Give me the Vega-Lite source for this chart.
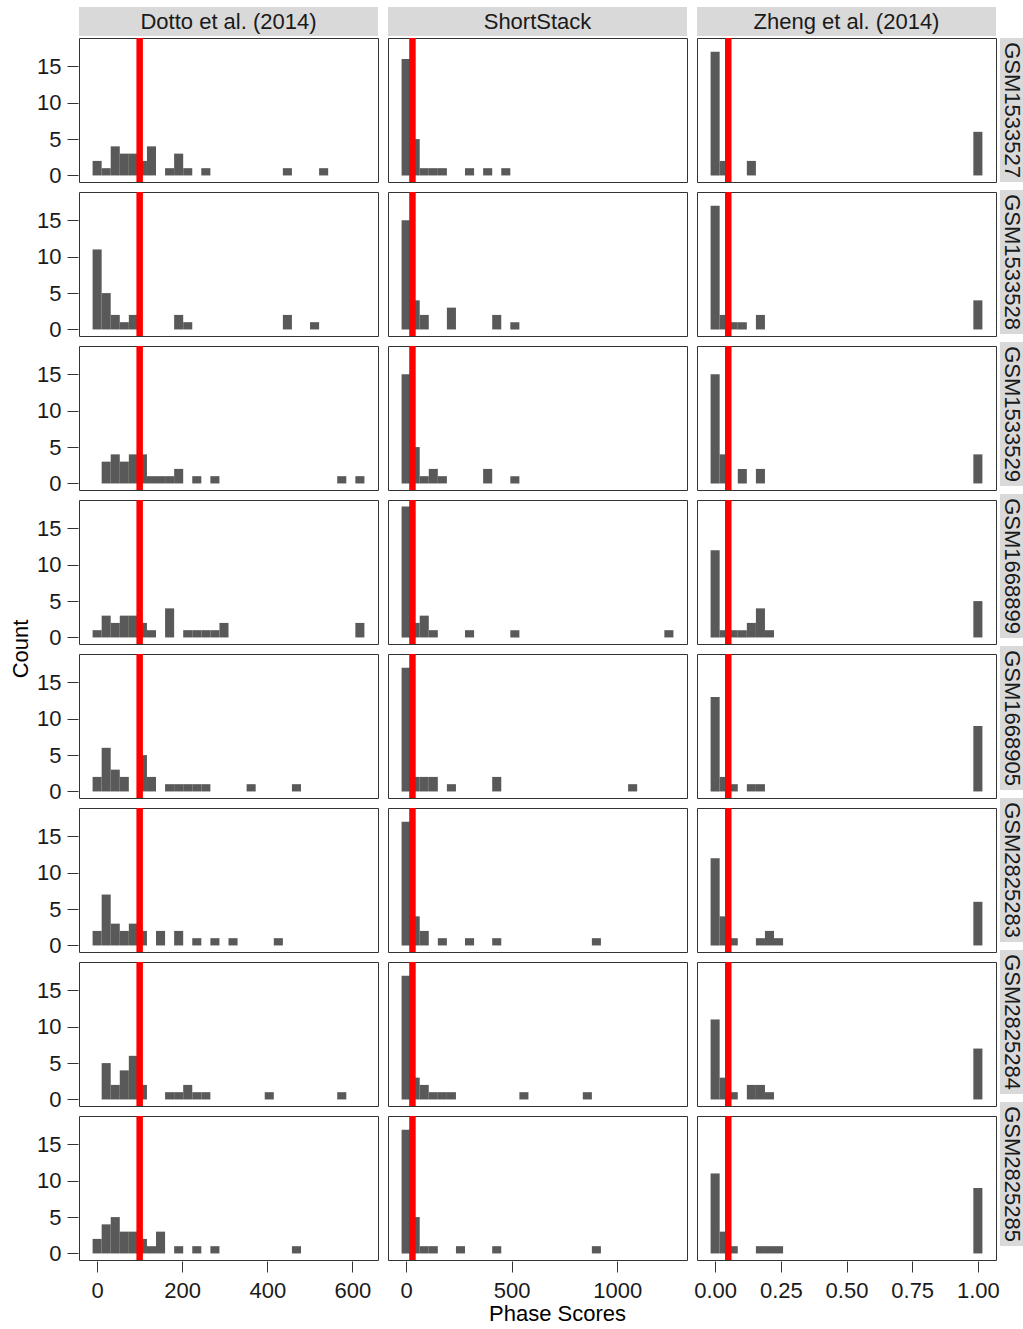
{
  "$schema": "https://vega.github.io/schema/vega-lite/v6.json",
  "background": "white",
  "padding": {"left": 10, "top": 7, "right": 0, "bottom": 0},
  "config": {
    "font": "Liberation Sans",
    "view": {"stroke": "#333333"},
    "axis": {"grid": false, "domain": false, "tickColor": "#333333", "tickSize": 11, "labelFontSize": 22, "labelColor": "#1a1a1a", "titleFontSize": 22, "titleFontWeight": "normal", "titleColor": "#000000"},
    "axisX": {"labelPadding": 8, "titlePadding": 2},
    "axisY": {"labelPadding": 6},
    "header": {"labelFontSize": 22, "titleFontSize": 22, "titleFontWeight": "normal", "titleColor": "#000000", "labelColor": "#1a1a1a"}
  },
  "datasets": {
    "samples": [
      {"sample": "GSM1533527"}, {"sample": "GSM1533528"}, {"sample": "GSM1533529"}, {"sample": "GSM1668899"},
      {"sample": "GSM1668905"}, {"sample": "GSM2825283"}, {"sample": "GSM2825284"}, {"sample": "GSM2825285"}
    ],
    "hist": [
      {"tool":"D","sample":"GSM1533527","threshold":100},
      {"tool":"D","sample":"GSM1533528","threshold":100},
      {"tool":"D","sample":"GSM1533529","threshold":100},
      {"tool":"D","sample":"GSM1668899","threshold":100},
      {"tool":"D","sample":"GSM1668905","threshold":100},
      {"tool":"D","sample":"GSM2825283","threshold":100},
      {"tool":"D","sample":"GSM2825284","threshold":100},
      {"tool":"D","sample":"GSM2825285","threshold":100},
      {"tool":"S","sample":"GSM1533527","threshold":30},
      {"tool":"S","sample":"GSM1533528","threshold":30},
      {"tool":"S","sample":"GSM1533529","threshold":30},
      {"tool":"S","sample":"GSM1668899","threshold":30},
      {"tool":"S","sample":"GSM1668905","threshold":30},
      {"tool":"S","sample":"GSM2825283","threshold":30},
      {"tool":"S","sample":"GSM2825284","threshold":30},
      {"tool":"S","sample":"GSM2825285","threshold":30},
      {"tool":"Z","sample":"GSM1533527","threshold":0.05},
      {"tool":"Z","sample":"GSM1533528","threshold":0.05},
      {"tool":"Z","sample":"GSM1533529","threshold":0.05},
      {"tool":"Z","sample":"GSM1668899","threshold":0.05},
      {"tool":"Z","sample":"GSM1668905","threshold":0.05},
      {"tool":"Z","sample":"GSM2825283","threshold":0.05},
      {"tool":"Z","sample":"GSM2825284","threshold":0.05},
      {"tool":"Z","sample":"GSM2825285","threshold":0.05},

      {"tool":"D","sample":"GSM1533527","lo":-10.65,"hi":10.65,"count":2},
      {"tool":"D","sample":"GSM1533527","lo":10.65,"hi":31.95,"count":1},
      {"tool":"D","sample":"GSM1533527","lo":31.95,"hi":53.25,"count":4},
      {"tool":"D","sample":"GSM1533527","lo":53.25,"hi":74.55,"count":3},
      {"tool":"D","sample":"GSM1533527","lo":74.55,"hi":95.85,"count":3},
      {"tool":"D","sample":"GSM1533527","lo":95.85,"hi":117.15,"count":2},
      {"tool":"D","sample":"GSM1533527","lo":117.15,"hi":138.45,"count":4},
      {"tool":"D","sample":"GSM1533527","lo":159.75,"hi":181.05,"count":1},
      {"tool":"D","sample":"GSM1533527","lo":181.05,"hi":202.35,"count":3},
      {"tool":"D","sample":"GSM1533527","lo":202.35,"hi":223.65,"count":1},
      {"tool":"D","sample":"GSM1533527","lo":244.95,"hi":266.25,"count":1},
      {"tool":"D","sample":"GSM1533527","lo":436.65,"hi":457.95,"count":1},
      {"tool":"D","sample":"GSM1533527","lo":521.85,"hi":543.15,"count":1},

      {"tool":"D","sample":"GSM1533528","lo":-10.65,"hi":10.65,"count":11},
      {"tool":"D","sample":"GSM1533528","lo":10.65,"hi":31.95,"count":5},
      {"tool":"D","sample":"GSM1533528","lo":31.95,"hi":53.25,"count":2},
      {"tool":"D","sample":"GSM1533528","lo":53.25,"hi":74.55,"count":1},
      {"tool":"D","sample":"GSM1533528","lo":74.55,"hi":95.85,"count":2},
      {"tool":"D","sample":"GSM1533528","lo":181.05,"hi":202.35,"count":2},
      {"tool":"D","sample":"GSM1533528","lo":202.35,"hi":223.65,"count":1},
      {"tool":"D","sample":"GSM1533528","lo":436.65,"hi":457.95,"count":2},
      {"tool":"D","sample":"GSM1533528","lo":500.55,"hi":521.85,"count":1},

      {"tool":"D","sample":"GSM1533529","lo":10.65,"hi":31.95,"count":3},
      {"tool":"D","sample":"GSM1533529","lo":31.95,"hi":53.25,"count":4},
      {"tool":"D","sample":"GSM1533529","lo":53.25,"hi":74.55,"count":3},
      {"tool":"D","sample":"GSM1533529","lo":74.55,"hi":95.85,"count":4},
      {"tool":"D","sample":"GSM1533529","lo":95.85,"hi":117.15,"count":4},
      {"tool":"D","sample":"GSM1533529","lo":117.15,"hi":138.45,"count":1},
      {"tool":"D","sample":"GSM1533529","lo":138.45,"hi":159.75,"count":1},
      {"tool":"D","sample":"GSM1533529","lo":159.75,"hi":181.05,"count":1},
      {"tool":"D","sample":"GSM1533529","lo":181.05,"hi":202.35,"count":2},
      {"tool":"D","sample":"GSM1533529","lo":223.65,"hi":244.95,"count":1},
      {"tool":"D","sample":"GSM1533529","lo":266.25,"hi":287.55,"count":1},
      {"tool":"D","sample":"GSM1533529","lo":564.45,"hi":585.75,"count":1},
      {"tool":"D","sample":"GSM1533529","lo":607.05,"hi":628.35,"count":1},

      {"tool":"D","sample":"GSM1668899","lo":-10.65,"hi":10.65,"count":1},
      {"tool":"D","sample":"GSM1668899","lo":10.65,"hi":31.95,"count":3},
      {"tool":"D","sample":"GSM1668899","lo":31.95,"hi":53.25,"count":2},
      {"tool":"D","sample":"GSM1668899","lo":53.25,"hi":74.55,"count":3},
      {"tool":"D","sample":"GSM1668899","lo":74.55,"hi":95.85,"count":3},
      {"tool":"D","sample":"GSM1668899","lo":95.85,"hi":117.15,"count":2},
      {"tool":"D","sample":"GSM1668899","lo":117.15,"hi":138.45,"count":1},
      {"tool":"D","sample":"GSM1668899","lo":159.75,"hi":181.05,"count":4},
      {"tool":"D","sample":"GSM1668899","lo":202.35,"hi":223.65,"count":1},
      {"tool":"D","sample":"GSM1668899","lo":223.65,"hi":244.95,"count":1},
      {"tool":"D","sample":"GSM1668899","lo":244.95,"hi":266.25,"count":1},
      {"tool":"D","sample":"GSM1668899","lo":266.25,"hi":287.55,"count":1},
      {"tool":"D","sample":"GSM1668899","lo":287.55,"hi":308.85,"count":2},
      {"tool":"D","sample":"GSM1668899","lo":607.05,"hi":628.35,"count":2},

      {"tool":"D","sample":"GSM1668905","lo":-10.65,"hi":10.65,"count":2},
      {"tool":"D","sample":"GSM1668905","lo":10.65,"hi":31.95,"count":6},
      {"tool":"D","sample":"GSM1668905","lo":31.95,"hi":53.25,"count":3},
      {"tool":"D","sample":"GSM1668905","lo":53.25,"hi":74.55,"count":2},
      {"tool":"D","sample":"GSM1668905","lo":95.85,"hi":117.15,"count":5},
      {"tool":"D","sample":"GSM1668905","lo":117.15,"hi":138.45,"count":2},
      {"tool":"D","sample":"GSM1668905","lo":159.75,"hi":181.05,"count":1},
      {"tool":"D","sample":"GSM1668905","lo":181.05,"hi":202.35,"count":1},
      {"tool":"D","sample":"GSM1668905","lo":202.35,"hi":223.65,"count":1},
      {"tool":"D","sample":"GSM1668905","lo":223.65,"hi":244.95,"count":1},
      {"tool":"D","sample":"GSM1668905","lo":244.95,"hi":266.25,"count":1},
      {"tool":"D","sample":"GSM1668905","lo":351.45,"hi":372.75,"count":1},
      {"tool":"D","sample":"GSM1668905","lo":457.95,"hi":479.25,"count":1},

      {"tool":"D","sample":"GSM2825283","lo":-10.65,"hi":10.65,"count":2},
      {"tool":"D","sample":"GSM2825283","lo":10.65,"hi":31.95,"count":7},
      {"tool":"D","sample":"GSM2825283","lo":31.95,"hi":53.25,"count":3},
      {"tool":"D","sample":"GSM2825283","lo":53.25,"hi":74.55,"count":2},
      {"tool":"D","sample":"GSM2825283","lo":74.55,"hi":95.85,"count":3},
      {"tool":"D","sample":"GSM2825283","lo":95.85,"hi":117.15,"count":2},
      {"tool":"D","sample":"GSM2825283","lo":138.45,"hi":159.75,"count":2},
      {"tool":"D","sample":"GSM2825283","lo":181.05,"hi":202.35,"count":2},
      {"tool":"D","sample":"GSM2825283","lo":223.65,"hi":244.95,"count":1},
      {"tool":"D","sample":"GSM2825283","lo":266.25,"hi":287.55,"count":1},
      {"tool":"D","sample":"GSM2825283","lo":308.85,"hi":330.15,"count":1},
      {"tool":"D","sample":"GSM2825283","lo":415.35,"hi":436.65,"count":1},

      {"tool":"D","sample":"GSM2825284","lo":10.65,"hi":31.95,"count":5},
      {"tool":"D","sample":"GSM2825284","lo":31.95,"hi":53.25,"count":2},
      {"tool":"D","sample":"GSM2825284","lo":53.25,"hi":74.55,"count":4},
      {"tool":"D","sample":"GSM2825284","lo":74.55,"hi":95.85,"count":6},
      {"tool":"D","sample":"GSM2825284","lo":95.85,"hi":117.15,"count":2},
      {"tool":"D","sample":"GSM2825284","lo":159.75,"hi":181.05,"count":1},
      {"tool":"D","sample":"GSM2825284","lo":181.05,"hi":202.35,"count":1},
      {"tool":"D","sample":"GSM2825284","lo":202.35,"hi":223.65,"count":2},
      {"tool":"D","sample":"GSM2825284","lo":223.65,"hi":244.95,"count":1},
      {"tool":"D","sample":"GSM2825284","lo":244.95,"hi":266.25,"count":1},
      {"tool":"D","sample":"GSM2825284","lo":394.05,"hi":415.35,"count":1},
      {"tool":"D","sample":"GSM2825284","lo":564.45,"hi":585.75,"count":1},

      {"tool":"D","sample":"GSM2825285","lo":-10.65,"hi":10.65,"count":2},
      {"tool":"D","sample":"GSM2825285","lo":10.65,"hi":31.95,"count":4},
      {"tool":"D","sample":"GSM2825285","lo":31.95,"hi":53.25,"count":5},
      {"tool":"D","sample":"GSM2825285","lo":53.25,"hi":74.55,"count":3},
      {"tool":"D","sample":"GSM2825285","lo":74.55,"hi":95.85,"count":3},
      {"tool":"D","sample":"GSM2825285","lo":95.85,"hi":117.15,"count":2},
      {"tool":"D","sample":"GSM2825285","lo":117.15,"hi":138.45,"count":1},
      {"tool":"D","sample":"GSM2825285","lo":138.45,"hi":159.75,"count":3},
      {"tool":"D","sample":"GSM2825285","lo":181.05,"hi":202.35,"count":1},
      {"tool":"D","sample":"GSM2825285","lo":223.65,"hi":244.95,"count":1},
      {"tool":"D","sample":"GSM2825285","lo":266.25,"hi":287.55,"count":1},
      {"tool":"D","sample":"GSM2825285","lo":457.95,"hi":479.25,"count":1},

      {"tool":"S","sample":"GSM1533527","lo":-21.45,"hi":21.45,"count":16},
      {"tool":"S","sample":"GSM1533527","lo":21.45,"hi":64.35,"count":5},
      {"tool":"S","sample":"GSM1533527","lo":64.35,"hi":107.25,"count":1},
      {"tool":"S","sample":"GSM1533527","lo":107.25,"hi":150.15,"count":1},
      {"tool":"S","sample":"GSM1533527","lo":150.15,"hi":193.05,"count":1},
      {"tool":"S","sample":"GSM1533527","lo":278.85,"hi":321.75,"count":1},
      {"tool":"S","sample":"GSM1533527","lo":364.65,"hi":407.55,"count":1},
      {"tool":"S","sample":"GSM1533527","lo":450.45,"hi":493.35,"count":1},

      {"tool":"S","sample":"GSM1533528","lo":-21.45,"hi":21.45,"count":15},
      {"tool":"S","sample":"GSM1533528","lo":21.45,"hi":64.35,"count":4},
      {"tool":"S","sample":"GSM1533528","lo":64.35,"hi":107.25,"count":2},
      {"tool":"S","sample":"GSM1533528","lo":193.05,"hi":235.95,"count":3},
      {"tool":"S","sample":"GSM1533528","lo":407.55,"hi":450.45,"count":2},
      {"tool":"S","sample":"GSM1533528","lo":493.35,"hi":536.25,"count":1},

      {"tool":"S","sample":"GSM1533529","lo":-21.45,"hi":21.45,"count":15},
      {"tool":"S","sample":"GSM1533529","lo":21.45,"hi":64.35,"count":5},
      {"tool":"S","sample":"GSM1533529","lo":64.35,"hi":107.25,"count":1},
      {"tool":"S","sample":"GSM1533529","lo":107.25,"hi":150.15,"count":2},
      {"tool":"S","sample":"GSM1533529","lo":150.15,"hi":193.05,"count":1},
      {"tool":"S","sample":"GSM1533529","lo":364.65,"hi":407.55,"count":2},
      {"tool":"S","sample":"GSM1533529","lo":493.35,"hi":536.25,"count":1},

      {"tool":"S","sample":"GSM1668899","lo":-21.45,"hi":21.45,"count":18},
      {"tool":"S","sample":"GSM1668899","lo":21.45,"hi":64.35,"count":2},
      {"tool":"S","sample":"GSM1668899","lo":64.35,"hi":107.25,"count":3},
      {"tool":"S","sample":"GSM1668899","lo":107.25,"hi":150.15,"count":1},
      {"tool":"S","sample":"GSM1668899","lo":278.85,"hi":321.75,"count":1},
      {"tool":"S","sample":"GSM1668899","lo":493.35,"hi":536.25,"count":1},
      {"tool":"S","sample":"GSM1668899","lo":1222.65,"hi":1265.55,"count":1},

      {"tool":"S","sample":"GSM1668905","lo":-21.45,"hi":21.45,"count":17},
      {"tool":"S","sample":"GSM1668905","lo":21.45,"hi":64.35,"count":2},
      {"tool":"S","sample":"GSM1668905","lo":64.35,"hi":107.25,"count":2},
      {"tool":"S","sample":"GSM1668905","lo":107.25,"hi":150.15,"count":2},
      {"tool":"S","sample":"GSM1668905","lo":193.05,"hi":235.95,"count":1},
      {"tool":"S","sample":"GSM1668905","lo":407.55,"hi":450.45,"count":2},
      {"tool":"S","sample":"GSM1668905","lo":1051.05,"hi":1093.95,"count":1},

      {"tool":"S","sample":"GSM2825283","lo":-21.45,"hi":21.45,"count":17},
      {"tool":"S","sample":"GSM2825283","lo":21.45,"hi":64.35,"count":4},
      {"tool":"S","sample":"GSM2825283","lo":64.35,"hi":107.25,"count":2},
      {"tool":"S","sample":"GSM2825283","lo":150.15,"hi":193.05,"count":1},
      {"tool":"S","sample":"GSM2825283","lo":278.85,"hi":321.75,"count":1},
      {"tool":"S","sample":"GSM2825283","lo":407.55,"hi":450.45,"count":1},
      {"tool":"S","sample":"GSM2825283","lo":879.45,"hi":922.35,"count":1},

      {"tool":"S","sample":"GSM2825284","lo":-21.45,"hi":21.45,"count":17},
      {"tool":"S","sample":"GSM2825284","lo":21.45,"hi":64.35,"count":3},
      {"tool":"S","sample":"GSM2825284","lo":64.35,"hi":107.25,"count":2},
      {"tool":"S","sample":"GSM2825284","lo":107.25,"hi":150.15,"count":1},
      {"tool":"S","sample":"GSM2825284","lo":150.15,"hi":193.05,"count":1},
      {"tool":"S","sample":"GSM2825284","lo":193.05,"hi":235.95,"count":1},
      {"tool":"S","sample":"GSM2825284","lo":536.25,"hi":579.15,"count":1},
      {"tool":"S","sample":"GSM2825284","lo":836.55,"hi":879.45,"count":1},

      {"tool":"S","sample":"GSM2825285","lo":-21.45,"hi":21.45,"count":17},
      {"tool":"S","sample":"GSM2825285","lo":21.45,"hi":64.35,"count":5},
      {"tool":"S","sample":"GSM2825285","lo":64.35,"hi":107.25,"count":1},
      {"tool":"S","sample":"GSM2825285","lo":107.25,"hi":150.15,"count":1},
      {"tool":"S","sample":"GSM2825285","lo":235.95,"hi":278.85,"count":1},
      {"tool":"S","sample":"GSM2825285","lo":407.55,"hi":450.45,"count":1},
      {"tool":"S","sample":"GSM2825285","lo":879.45,"hi":922.35,"count":1},

      {"tool":"Z","sample":"GSM1533527","lo":-0.01724,"hi":0.01724,"count":17},
      {"tool":"Z","sample":"GSM1533527","lo":0.01724,"hi":0.05172,"count":2},
      {"tool":"Z","sample":"GSM1533527","lo":0.12069,"hi":0.15517,"count":2},
      {"tool":"Z","sample":"GSM1533527","lo":0.98276,"hi":1.01724,"count":6},

      {"tool":"Z","sample":"GSM1533528","lo":-0.01724,"hi":0.01724,"count":17},
      {"tool":"Z","sample":"GSM1533528","lo":0.01724,"hi":0.05172,"count":2},
      {"tool":"Z","sample":"GSM1533528","lo":0.05172,"hi":0.08621,"count":1},
      {"tool":"Z","sample":"GSM1533528","lo":0.08621,"hi":0.12069,"count":1},
      {"tool":"Z","sample":"GSM1533528","lo":0.15517,"hi":0.18966,"count":2},
      {"tool":"Z","sample":"GSM1533528","lo":0.98276,"hi":1.01724,"count":4},

      {"tool":"Z","sample":"GSM1533529","lo":-0.01724,"hi":0.01724,"count":15},
      {"tool":"Z","sample":"GSM1533529","lo":0.01724,"hi":0.05172,"count":4},
      {"tool":"Z","sample":"GSM1533529","lo":0.08621,"hi":0.12069,"count":2},
      {"tool":"Z","sample":"GSM1533529","lo":0.15517,"hi":0.18966,"count":2},
      {"tool":"Z","sample":"GSM1533529","lo":0.98276,"hi":1.01724,"count":4},

      {"tool":"Z","sample":"GSM1668899","lo":-0.01724,"hi":0.01724,"count":12},
      {"tool":"Z","sample":"GSM1668899","lo":0.01724,"hi":0.05172,"count":1},
      {"tool":"Z","sample":"GSM1668899","lo":0.05172,"hi":0.08621,"count":1},
      {"tool":"Z","sample":"GSM1668899","lo":0.08621,"hi":0.12069,"count":1},
      {"tool":"Z","sample":"GSM1668899","lo":0.12069,"hi":0.15517,"count":2},
      {"tool":"Z","sample":"GSM1668899","lo":0.15517,"hi":0.18966,"count":4},
      {"tool":"Z","sample":"GSM1668899","lo":0.18966,"hi":0.22414,"count":1},
      {"tool":"Z","sample":"GSM1668899","lo":0.98276,"hi":1.01724,"count":5},

      {"tool":"Z","sample":"GSM1668905","lo":-0.01724,"hi":0.01724,"count":13},
      {"tool":"Z","sample":"GSM1668905","lo":0.01724,"hi":0.05172,"count":2},
      {"tool":"Z","sample":"GSM1668905","lo":0.05172,"hi":0.08621,"count":1},
      {"tool":"Z","sample":"GSM1668905","lo":0.12069,"hi":0.15517,"count":1},
      {"tool":"Z","sample":"GSM1668905","lo":0.15517,"hi":0.18966,"count":1},
      {"tool":"Z","sample":"GSM1668905","lo":0.98276,"hi":1.01724,"count":9},

      {"tool":"Z","sample":"GSM2825283","lo":-0.01724,"hi":0.01724,"count":12},
      {"tool":"Z","sample":"GSM2825283","lo":0.01724,"hi":0.05172,"count":4},
      {"tool":"Z","sample":"GSM2825283","lo":0.05172,"hi":0.08621,"count":1},
      {"tool":"Z","sample":"GSM2825283","lo":0.15517,"hi":0.18966,"count":1},
      {"tool":"Z","sample":"GSM2825283","lo":0.18966,"hi":0.22414,"count":2},
      {"tool":"Z","sample":"GSM2825283","lo":0.22414,"hi":0.25862,"count":1},
      {"tool":"Z","sample":"GSM2825283","lo":0.98276,"hi":1.01724,"count":6},

      {"tool":"Z","sample":"GSM2825284","lo":-0.01724,"hi":0.01724,"count":11},
      {"tool":"Z","sample":"GSM2825284","lo":0.01724,"hi":0.05172,"count":3},
      {"tool":"Z","sample":"GSM2825284","lo":0.05172,"hi":0.08621,"count":1},
      {"tool":"Z","sample":"GSM2825284","lo":0.12069,"hi":0.15517,"count":2},
      {"tool":"Z","sample":"GSM2825284","lo":0.15517,"hi":0.18966,"count":2},
      {"tool":"Z","sample":"GSM2825284","lo":0.18966,"hi":0.22414,"count":1},
      {"tool":"Z","sample":"GSM2825284","lo":0.98276,"hi":1.01724,"count":7},

      {"tool":"Z","sample":"GSM2825285","lo":-0.01724,"hi":0.01724,"count":11},
      {"tool":"Z","sample":"GSM2825285","lo":0.01724,"hi":0.05172,"count":3},
      {"tool":"Z","sample":"GSM2825285","lo":0.05172,"hi":0.08621,"count":1},
      {"tool":"Z","sample":"GSM2825285","lo":0.15517,"hi":0.18966,"count":1},
      {"tool":"Z","sample":"GSM2825285","lo":0.18966,"hi":0.22414,"count":1},
      {"tool":"Z","sample":"GSM2825285","lo":0.22414,"hi":0.25862,"count":1},
      {"tool":"Z","sample":"GSM2825285","lo":0.98276,"hi":1.01724,"count":9}
    ]
  },
  "vconcat": [
    {
      "hconcat": [
        {"data": {"values": [{"label": "Dotto et al. (2014)"}]}, "width": 299, "height": 29, "view": {"fill": "#d9d9d9", "stroke": null}, "mark": {"type": "text", "fontSize": 22, "color": "#1a1a1a"}, "encoding": {"text": {"field": "label"}}},
        {"data": {"values": [{"label": "ShortStack"}]}, "width": 299, "height": 29, "view": {"fill": "#d9d9d9", "stroke": null}, "mark": {"type": "text", "fontSize": 22, "color": "#1a1a1a"}, "encoding": {"text": {"field": "label"}}},
        {"data": {"values": [{"label": "Zheng et al. (2014)"}]}, "width": 299, "height": 29, "view": {"fill": "#d9d9d9", "stroke": null}, "mark": {"type": "text", "fontSize": 22, "color": "#1a1a1a"}, "encoding": {"text": {"field": "label"}}}
      ],
      "bounds": "flush",
      "spacing": 10
    },
    {
      "hconcat": [
        {
          "data": {"name": "hist"},
          "transform": [{"filter": "datum.tool === 'D'"}],
          "facet": {"row": {"field": "sample", "type": "nominal", "title": "Count", "header": {"labels": false, "labelPadding": 0, "titlePadding": -7}}},
          "spacing": 8,
          "spec": {
            "width": 299, "height": 144,
            "layer": [
              {
                "transform": [{"filter": "isValid(datum.count)"}],
                "mark": {"type": "bar", "color": "#595959"},
                "encoding": {
                  "x": {"field": "lo", "type": "quantitative", "scale": {"domain": [-42.6, 660.3], "nice": false, "zero": false}, "axis": {"values": [0, 200, 400, 600], "title": null}},
                  "x2": {"field": "hi"},
                  "y": {"field": "count", "type": "quantitative", "scale": {"domain": [-0.9, 18.9], "nice": false, "zero": false}, "axis": {"values": [0, 5, 10, 15], "title": null}},
                  "y2": {"datum": 0}
                }
              },
              {
                "transform": [{"filter": "isValid(datum.threshold)"}],
                "mark": {"type": "tick", "color": "#ff0000", "thickness": 6.5, "size": 144, "opacity": 1},
                "encoding": {"x": {"field": "threshold", "type": "quantitative", "axis": {"values": [0, 200, 400, 600], "title": null}}}
              }
            ]
          }
        },
        {
          "hconcat": [
            {
              "data": {"name": "hist"},
              "transform": [{"filter": "datum.tool === 'S'"}],
              "facet": {"row": {"field": "sample", "type": "nominal", "title": null, "header": {"labels": false}}},
              "spacing": 8,
              "spec": {
                "width": 299, "height": 144,
                "layer": [
                  {
                    "transform": [{"filter": "isValid(datum.count)"}],
                    "mark": {"type": "bar", "color": "#595959"},
                    "encoding": {
                      "x": {"field": "lo", "type": "quantitative", "scale": {"domain": [-85.8, 1329.9], "nice": false, "zero": false}, "axis": {"values": [0, 500, 1000], "format": "d", "title": "Phase Scores", "titleX": 169}},
                      "x2": {"field": "hi"},
                      "y": {"field": "count", "type": "quantitative", "scale": {"domain": [-0.9, 18.9], "nice": false, "zero": false}, "axis": null},
                      "y2": {"datum": 0}
                    }
                  },
                  {
                    "transform": [{"filter": "isValid(datum.threshold)"}],
                    "mark": {"type": "tick", "color": "#ff0000", "thickness": 6.5, "size": 144, "opacity": 1},
                    "encoding": {"x": {"field": "threshold", "type": "quantitative", "axis": {"values": [0, 500, 1000], "format": "d", "title": "Phase Scores", "titleX": 169}}}
                  }
                ]
              }
            },
            {
              "hconcat": [
                {
                  "data": {"name": "hist"},
                  "transform": [{"filter": "datum.tool === 'Z'"}],
                  "facet": {"row": {"field": "sample", "type": "nominal", "title": null, "header": {"labels": false}}},
                  "spacing": 8,
                  "spec": {
                    "width": 299, "height": 144,
                    "layer": [
                      {
                        "transform": [{"filter": "isValid(datum.count)"}],
                        "mark": {"type": "bar", "color": "#595959"},
                        "encoding": {
                          "x": {"field": "lo", "type": "quantitative", "scale": {"domain": [-0.069, 1.069], "nice": false, "zero": false}, "axis": {"values": [0, 0.25, 0.5, 0.75, 1], "format": ".2f", "title": null}},
                          "x2": {"field": "hi"},
                          "y": {"field": "count", "type": "quantitative", "scale": {"domain": [-0.9, 18.9], "nice": false, "zero": false}, "axis": null},
                          "y2": {"datum": 0}
                        }
                      },
                      {
                        "transform": [{"filter": "isValid(datum.threshold)"}],
                        "mark": {"type": "tick", "color": "#ff0000", "thickness": 6.5, "size": 144, "opacity": 1},
                        "encoding": {"x": {"field": "threshold", "type": "quantitative", "axis": {"values": [0, 0.25, 0.5, 0.75, 1], "format": ".2f", "title": null}}}
                      }
                    ]
                  }
                },
                {
                  "data": {"name": "samples"},
                  "facet": {"row": {"field": "sample", "type": "nominal", "title": null, "header": {"labels": false}}},
                  "spacing": 8,
                  "spec": {
                    "width": 24, "height": 144,
                    "view": {"fill": "#d9d9d9", "stroke": null},
                    "mark": {"type": "text", "angle": 90, "fontSize": 22, "color": "#1a1a1a"},
                    "encoding": {"text": {"field": "sample"}}
                  }
                }
              ],
              "spacing": -6
            }
          ],
          "spacing": 5
        }
      ],
      "spacing": 8
    }
  ],
  "spacing": 1
}
